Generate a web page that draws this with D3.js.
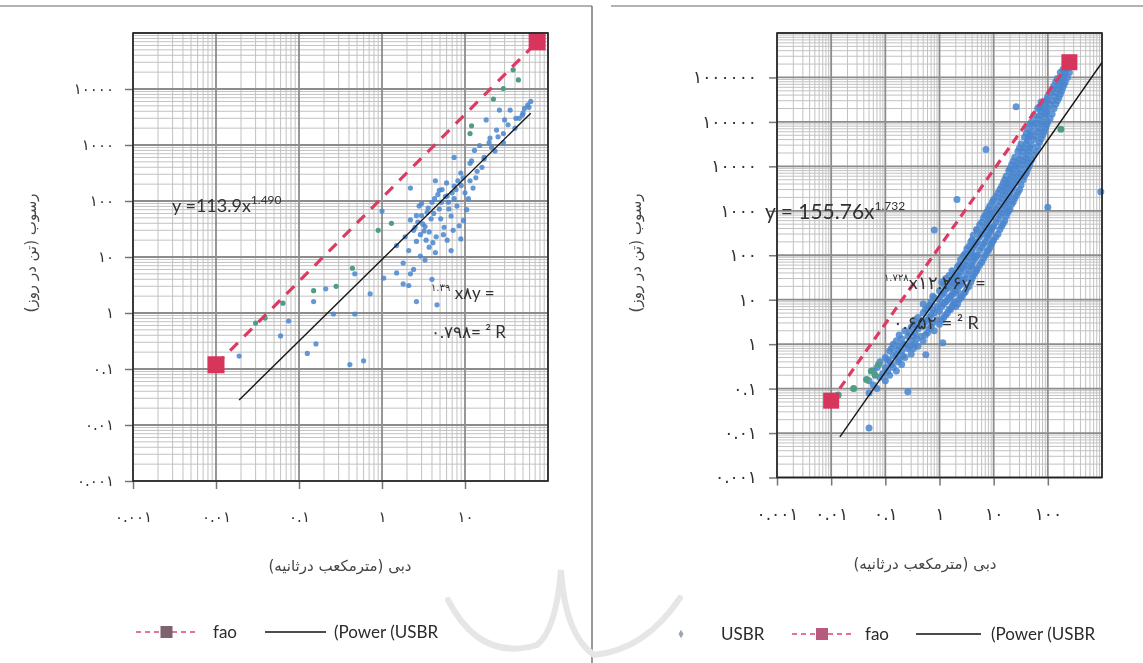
<!DOCTYPE html>
<html>
<head>
<meta charset="utf-8">
<style>
    body { margin: 0; background: #fff; }
    .eq { font-family: Lato, "Open Sans", sans-serif; fill: #333; }
    .fa { font-family: "DejaVu Sans"; fill: #444; }
    .leg { font-family: Lato, "Open Sans", sans-serif; fill: #2a2a2a; font-size: 17px; }
</style>
<script src="https://d3js.org/d3.v7.min.js"></script>
</head>
<body>
<svg width="1143" height="663"></svg>
<script>
// ---- data ----
var leftXDomain = [0.001, 100];
var leftYDomain = [0.001, 100000];
var leftXTicks = [0.001, 0.01, 0.1, 1, 10];
var leftYTicks = [0.001, 0.01, 0.1, 1, 10, 100, 1000, 10000];

var rightXDomain = [0.001, 1000];
var rightYDomain = [0.001, 10000000];
var rightXTicks = [0.001, 0.01, 0.1, 1, 10, 100];
var rightYTicks = [0.001, 0.01, 0.1, 1, 10, 100, 1000, 10000, 100000, 1000000];

// discharge (m3/s), sediment (t/day)
var leftUsbr = [[57,5200],[49,3400],[35,4200],[30,2800],[40,2000],[24,1850],[20,1330],[29,1100],[15,980],[23,780],
    [17,560],[11.5,470],[14,340],[8.9,316],[11.5,230],[7.4,185],[10,140],[6.1,123],[8,81],[4.9,72],[6.8,54],[3.9,48],
    [5.6,34],[3.2,29],[4.5,23],[2.6,19],[3.7,15],[2.1,13],[2.9,10.4],[1.8,7.8],[2.4,6],[1.5,5.2],[4,4],[2.1,3.1],
    [2.8,81],[3.5,63],[2.2,46],[4.3,110],[4.9,155],[6,210],[3.1,39],[2.5,34],[1.9,23],[1.5,16],[3.7,28],[5.1,48],
    [6.4,72],[7.4,110],[8.5,36],[6.1,20],[4.4,12],[3.3,8.8],[6.8,13],[8.9,21],[12,520],[17,600],[19.5,1100],[29,1600],
    [41,3000],[50,3700],[59,4700],[26,4200],[18,2800],[0.47,5],[0.72,2.2],[1.05,4.2],[0.21,2.7],[0.15,1.6],[0.47,0.96],
    [0.26,0.96],[2.6,1.6],[4.6,1.4],[1.8,3.3],[2.2,5],[0.019,0.17],[0.06,0.39],[0.126,0.19],[0.16,0.28],[0.41,0.12],
    [0.6,0.14],[1.0,66],[2.2,170],[4.4,230],[7.4,600],[0.075,0.72],[3.0,90],[5.2,95],[2.6,55],[9.5,260],[13,800],
    [2.4,30],[2.7,42],[3.0,55],[3.3,35],[3.6,75],[4.0,95],[4.2,60],[4.7,130],[5.3,160],[5.8,120],[6.3,95],[7.0,140],
    [7.8,160],[8.2,230],[9.0,190],[3.4,20],[2.9,25],[4.1,18],[5.5,25],[7.2,30],[9.6,45],[10.5,70],[11,110],[12.5,170],
    [13.5,260],[16,400],[21,900],[25,1400],[33,2300],[45,3000],[52,4500],[62,6000]];
var leftOther = [[38,22000],[44,14500],[29,10200],[22,6600],[12,2200],[11.5,1600],[0.039,0.81],[0.15,2.5],
    [0.28,3.0],[0.44,6.3],[0.064,1.5],[0.03,0.66],[1.3,40],[0.9,30]];
var leftFao = [[0.01, 0.119], [74, 69400]];
var leftPower = [[0.019, 0.028], [62, 3700]];

var rightUsbr = [[0.05,0.08],[0.05,0.15],[0.06,0.12],[0.06,0.25],[0.07,0.1],[0.07,0.3],[0.08,0.18],[0.08,0.4],[0.09,0.22],
    [0.1,0.15],[0.1,0.3],[0.1,0.5],[0.12,0.2],[0.12,0.4],[0.12,0.7],[0.14,0.3],[0.14,0.55],[0.14,1.0],[0.16,0.25],[0.16,0.6],
    [0.16,1.2],[0.18,0.45],[0.18,0.9],[0.18,1.6],[0.2,0.35],[0.2,0.7],[0.2,1.3],[0.23,0.5],[0.23,1.0],[0.23,2.0],[0.26,0.8],
    [0.26,1.5],[0.3,0.6],[0.3,1.2],[0.3,2.4],[0.35,1.0],[0.35,1.8],[0.35,3.5],[0.4,0.9],[0.4,2.2],[0.4,4],[0.45,1.5],[0.45,3],
    [0.5,1.2],[0.5,2.5],[0.5,5],[0.5,8],[0.6,1.8],[0.6,3.5],[0.6,6.5],[0.7,2.5],[0.7,4.5],[0.7,9],[0.8,2],[0.8,5],[0.8,11],
    [0.9,3.5],[0.9,7],[1,2.8],[1,5.5],[1,10],[1,16],[1.2,4],[1.2,8],[1.2,14],[1.2,22],[1.4,5],[1.4,10],[1.4,18],[1.6,6],
    [1.6,12],[1.6,25],[1.8,8],[1.8,15],[1.8,30],[2,7],[2,14],[2,22],[2,40],[2.3,10],[2.3,20],[2.3,35],[2.3,60],[2.6,12],
    [2.6,25],[2.6,50],[3,15],[3,30],[3,60],[3,110],[3.5,20],[3.5,45],[3.5,90],[3.5,160],[4,30],[4,60],[4,120],[4,220],
    [4.5,40],[4.5,85],[4.5,170],[5,50],[5,100],[5,200],[5,350],[6,70],[6,150],[6,300],[6,550],[7,100],[7,200],[7,420],
    [7,800],[8,130],[8,280],[8,600],[8,1100],[9,180],[9,380],[9,800],[10,220],[10,450],[10,950],[10,1800],[12,300],[12,650],
    [12,1300],[12,2500],[14,450],[14,900],[14,1900],[14,3500],[16,600],[16,1300],[16,2700],[16,5000],[18,900],[18,1800],
    [18,3800],[20,1100],[20,2500],[20,5000],[20,9000],[23,1600],[23,3500],[23,7000],[23,13000],[26,2200],[26,5000],
    [26,10000],[30,3000],[30,7000],[30,14000],[30,26000],[35,5000],[35,11000],[35,22000],[40,7000],[40,15000],[40,32000],
    [40,55000],[45,10000],[45,22000],[45,45000],[50,14000],[50,30000],[50,60000],[50,100000],[60,22000],[60,48000],
    [60,95000],[70,35000],[70,70000],[70,140000],[70,220000],[80,50000],[80,100000],[80,200000],[90,70000],[90,150000],
    [90,280000],[100,100000],[100,200000],[100,380000],[120,150000],[120,300000],[120,550000],[140,250000],[140,450000],
    [140,800000],[160,350000],[160,650000],[180,500000],[180,900000],[200,700000],[200,1200000],[230,1000000],[230,1600000],
    [0.05,0.013],[0.26,0.085],[1.15,1.07],[0.56,0.58],[100,1200],[950,2700],[2.1,1800],[7.2,24000],[26,220000],[0.8,370],
    [0.11,0.25],[0.11,0.45],[0.13,0.35],[0.13,0.8],[0.17,0.4],[0.17,0.75],[0.21,0.55],[0.21,1.0],[0.28,0.9],[0.28,1.8],
    [0.33,0.8],[0.33,1.5],[0.33,2.8],[0.38,1.3],[0.38,2.6],[0.55,1.6],[0.55,3.2],[0.55,6],[0.65,2.2],[0.65,4],[0.65,7.5],
    [0.75,3],[0.75,6],[0.75,12],[1.1,3.5],[1.1,7],[1.1,13],[1.1,25],[1.3,4.5],[1.3,9],[1.3,17],[1.3,30],[1.5,6],[1.5,11],
    [1.5,20],[1.5,35],[1.7,7],[1.7,13],[1.7,24],[1.7,45],[1.9,9],[1.9,18],[1.9,33],[2.15,8],[2.15,16],[2.15,30],[2.15,55],
    [2.45,11],[2.45,22],[2.45,42],[2.45,80],[2.8,14],[2.8,28],[2.8,55],[2.8,100],[3.2,18],[3.2,38],[3.2,75],[3.2,140],
    [3.8,25],[3.8,55],[3.8,110],[3.8,200],[4.2,35],[4.2,75],[4.2,150],[4.2,280],[4.8,45],[4.8,95],[4.8,190],[4.8,380],
    [5.5,60],[5.5,130],[5.5,260],[5.5,480],[6.5,85],[6.5,180],[6.5,360],[6.5,700],[7.5,120],[7.5,250],[7.5,500],[7.5,950],
    [8.5,150],[8.5,330],[8.5,700],[8.5,1300],[9.5,200],[9.5,420],[9.5,850],[9.5,1600],[11,260],[11,550],[11,1100],[11,2100],
    [13,380],[13,780],[13,1600],[13,3000],[15,520],[15,1100],[15,2300],[15,4200],[17,750],[17,1500],[17,3200],[17,6000],
    [19,1000],[19,2100],[19,4300],[19,8000],[21.5,1400],[21.5,3000],[21.5,6000],[21.5,11000],[24.5,1900],[24.5,4200],
    [24.5,8500],[24.5,16000],[28,2600],[28,6000],[28,12000],[28,22000],[32,3800],[32,8500],[32,17000],[32,32000],
    [37,6000],[37,13000],[37,26000],[37,45000],[42,8500],[42,18000],[42,38000],[42,70000],[47,12000],[47,26000],
    [47,52000],[47,90000],[55,18000],[55,40000],[55,80000],[55,140000],[65,28000],[65,60000],[65,120000],[65,200000],
    [75,42000],[75,90000],[75,170000],[75,280000],[85,60000],[85,130000],[85,240000],[95,85000],[95,170000],[95,320000],
    [110,120000],[110,250000],[110,450000],[130,200000],[130,380000],[130,650000],[150,300000],[150,550000],[150,950000],
    [170,420000],[170,780000],[170,1300000],[190,600000],[190,1000000],[190,1500000],[210,800000],[210,1300000],
    [250,1300000],[250,1900000]];
var rightOther = [[0.0135,0.072],[0.045,0.16],[0.055,0.25],[0.065,0.2],[0.075,0.35],[0.026,0.1],[174,68000]];
var rightFao = [[0.01, 0.0535], [250, 2200000]];
var rightPower = [[0.0145, 0.0082], [1000, 2170000]];

var faDigits = "۰۱۲۳۴۵۶۷۸۹";
function fa(v) { return String(v).replace(/\d/g, function (d) { return faDigits[d]; }); }

var svg = d3.select("svg");

svg.append("defs").append("filter").attr("id", "soft")
    .append("feGaussianBlur").attr("stdDeviation", 0.45);

var root = svg.append("g").attr("filter", "url(#soft)");

// panel frame lines
root.append("line").attr("x1", 0).attr("x2", 592).attr("y1", 6).attr("y2", 6).attr("stroke", "#999").attr("stroke-width", 1.5);
root.append("line").attr("x1", 611).attr("x2", 1143).attr("y1", 6).attr("y2", 6).attr("stroke", "#999").attr("stroke-width", 1.5);
root.append("line").attr("x1", 592).attr("x2", 592).attr("y1", 6).attr("y2", 663).attr("stroke", "#777").attr("stroke-width", 1.5);

// faint watermark
root.append("path").attr("d", "M448,600 Q480,662 537,645 Q556,630 561,570 Q565,635 594,655 Q645,650 680,598")
    .attr("fill", "none").attr("stroke", "#e6e6e6").attr("stroke-width", 6).attr("stroke-linecap", "round");

function drawPanel(p) {
    var x = d3.scaleLog().domain(p.xDomain).range([p.left, p.right]);
    var y = d3.scaleLog().domain(p.yDomain).range([p.bottom, p.top]);
    var major = function (v) { var l = Math.log10(v); return Math.abs(l - Math.round(l)) < 1e-6; };

    var g = root.append("g");

    // grid
    var xs = x.ticks(40), ys = y.ticks(40);
    g.selectAll(".vx").data(xs.filter(function (v) { return !major(v); })).enter().append("line")
        .attr("x1", d => x(d)).attr("x2", d => x(d)).attr("y1", p.top).attr("y2", p.bottom)
        .attr("stroke", "#c2c2c2").attr("stroke-width", 1);
    g.selectAll(".hy").data(ys.filter(function (v) { return !major(v); })).enter().append("line")
        .attr("x1", p.left).attr("x2", p.right).attr("y1", d => y(d)).attr("y2", d => y(d))
        .attr("stroke", "#c2c2c2").attr("stroke-width", 1);
    g.selectAll(".vxm").data(xs.filter(major)).enter().append("line")
        .attr("x1", d => x(d)).attr("x2", d => x(d)).attr("y1", p.top).attr("y2", p.bottom)
        .attr("stroke", "#8c8c8c").attr("stroke-width", 1.8);
    g.selectAll(".hym").data(ys.filter(major)).enter().append("line")
        .attr("x1", p.left).attr("x2", p.right).attr("y1", d => y(d)).attr("y2", d => y(d))
        .attr("stroke", "#8c8c8c").attr("stroke-width", 1.8);

    // axes
    var ya = g.append("g").attr("transform", "translate(" + p.left + ",0)")
        .call(d3.axisLeft(y).tickValues(p.yTicks).tickFormat(fa).tickSize(8).tickPadding(p.yPad));
    var xa = g.append("g").attr("transform", "translate(0," + p.bottom + ")")
        .call(d3.axisBottom(x).tickValues(p.xTicks).tickFormat(fa).tickSize(8).tickPadding(p.xPad));
    [ya, xa].forEach(function (a) {
        a.select(".domain").remove();
        a.selectAll(".tick line").attr("stroke", "#777").attr("stroke-width", 1.5);
        a.selectAll(".tick text").attr("font-size", p.tickFont).attr("font-family", "DejaVu Sans")
            .attr("letter-spacing", p.spacing).attr("fill", "#333");
    });

    // scatter
    g.selectAll(".u").data(p.usbr).enter().append("circle")
        .attr("cx", d => x(d[0])).attr("cy", d => y(d[1])).attr("r", p.r)
        .attr("fill", "#4a86cf").attr("fill-opacity", 0.85);
    g.selectAll(".o").data(p.other).enter().append("circle")
        .attr("cx", d => x(d[0])).attr("cy", d => y(d[1])).attr("r", p.r)
        .attr("fill", "#4f9d86");

    // fao dashed line + square markers
    var line = d3.line().x(d => x(d[0])).y(d => y(d[1]));
    g.append("path").attr("d", line(p.fao)).attr("fill", "none")
        .attr("stroke", "#dc3a64").attr("stroke-width", 3.2).attr("stroke-dasharray", p.dash);
    g.selectAll(".sq").data(p.fao).enter().append("rect")
        .attr("x", d => x(d[0]) - p.sq / 2).attr("y", d => y(d[1]) - p.sq / 2)
        .attr("width", p.sq).attr("height", p.sq).attr("fill", "#d8345d");

    // power trend
    g.append("path").attr("d", line(p.power)).attr("fill", "none")
        .attr("stroke", "#151515").attr("stroke-width", 1.4);

    // border
    g.append("rect").attr("x", p.left).attr("y", p.top).attr("width", p.right - p.left).attr("height", p.bottom - p.top)
        .attr("fill", "none").attr("stroke", "#222").attr("stroke-width", 1.6);

    // axis titles
    g.append("text").attr("class", "fa").attr("direction", "rtl").attr("text-anchor", "middle")
        .attr("font-size", 15).attr("transform", "translate(" + p.yTitle[0] + "," + p.yTitle[1] + ") rotate(-90)")
        .text("رسوب (تن در روز)");
    g.append("text").attr("class", "fa").attr("direction", "rtl").attr("text-anchor", "middle")
        .attr("font-size", 15).attr("x", p.xTitle[0]).attr("y", p.xTitle[1])
        .text("دبی (مترمکعب درثانیه)");
    return g;
}

var gl = drawPanel({
    left: 133, right: 548, top: 33, bottom: 481,
    xDomain: leftXDomain, yDomain: leftYDomain, xTicks: leftXTicks, yTicks: leftYTicks,
    yPad: 11, xPad: 22, tickFont: 15, spacing: 0.5, r: 2.6, sq: 17, dash: "11,9",
    usbr: leftUsbr, other: leftOther, fao: leftFao, power: leftPower,
    yTitle: [36, 253], xTitle: [340, 571]
});
var gr = drawPanel({
    left: 777, right: 1102, top: 33, bottom: 477.5,
    xDomain: rightXDomain, yDomain: rightYDomain, xTicks: rightXTicks, yTicks: rightYTicks,
    yPad: 12, xPad: 22, tickFont: 17, spacing: 1.5, r: 3.5, sq: 16, dash: "9,6",
    usbr: rightUsbr, other: rightOther, fao: rightFao, power: rightPower,
    yTitle: [641, 253], xTitle: [925, 569]
});

// equations
var e1 = gl.append("text").attr("class", "eq").attr("x", 172).attr("y", 212).attr("font-size", 18);
e1.append("tspan").text("y =113.9x");
e1.append("tspan").attr("font-size", 12).attr("dy", -8).text("1.490");
var e2 = gl.append("text").attr("class", "eq").attr("x", 431).attr("y", 299).attr("font-size", 17);
e2.append("tspan").attr("font-size", 10).attr("dy", -8).attr("font-family", "DejaVu Sans").text("۱.۳۹");
e2.append("tspan").attr("dy", 8).text(" x۸y =");
gl.append("text").attr("class", "eq").attr("x", 431).attr("y", 338).attr("font-size", 17).text("۰.۷۹۸= ² R");

var e3 = gr.append("text").attr("class", "eq").attr("x", 765).attr("y", 219).attr("font-size", 21);
e3.append("tspan").text("y = 155.76x");
e3.append("tspan").attr("font-size", 12).attr("dy", -9).text("1.732");
var e4 = gr.append("text").attr("class", "eq").attr("x", 884).attr("y", 289).attr("font-size", 18);
e4.append("tspan").attr("font-size", 10).attr("dy", -8).attr("font-family", "DejaVu Sans").text("۱.۷۲۸");
e4.append("tspan").attr("dy", 8).text("x۱۲.۲۶y =");
gr.append("text").attr("class", "eq").attr("x", 893).attr("y", 329).attr("font-size", 18).text("۰.۶۵۲ = ² R");

// legends
function legFao(g, x0, x1, cy, sqColor) {
    g.append("line").attr("x1", x0).attr("x2", x1).attr("y1", cy).attr("y2", cy)
        .attr("stroke", "#e0768f").attr("stroke-width", 2).attr("stroke-dasharray", "5,4");
    g.append("rect").attr("x", (x0 + x1) / 2 - 6).attr("y", cy - 6).attr("width", 12).attr("height", 12).attr("fill", sqColor);
}
legFao(gl, 136, 197, 632, "#7d6470");
gl.append("text").attr("class", "leg").attr("x", 213).attr("y", 638).text("fao");
gl.append("line").attr("x1", 265).attr("x2", 326).attr("y1", 632).attr("y2", 632).attr("stroke", "#111").attr("stroke-width", 1.5);
gl.append("text").attr("class", "leg").attr("x", 334).attr("y", 638).text("(Power (USBR");

gr.append("path").attr("d", d3.symbol(d3.symbolDiamond, 22)()).attr("transform", "translate(681,634)").attr("fill", "#9aa6b8");
gr.append("text").attr("class", "leg").attr("x", 721).attr("y", 640).text("USBR");
legFao(gr, 792, 852, 634, "#b85a7e");
gr.append("text").attr("class", "leg").attr("x", 865).attr("y", 640).text("fao");
gr.append("line").attr("x1", 916).attr("x2", 981).attr("y1", 634).attr("y2", 634).attr("stroke", "#111").attr("stroke-width", 1.5);
gr.append("text").attr("class", "leg").attr("x", 991).attr("y", 640).text("(Power (USBR");
</script>
</body>
</html>
